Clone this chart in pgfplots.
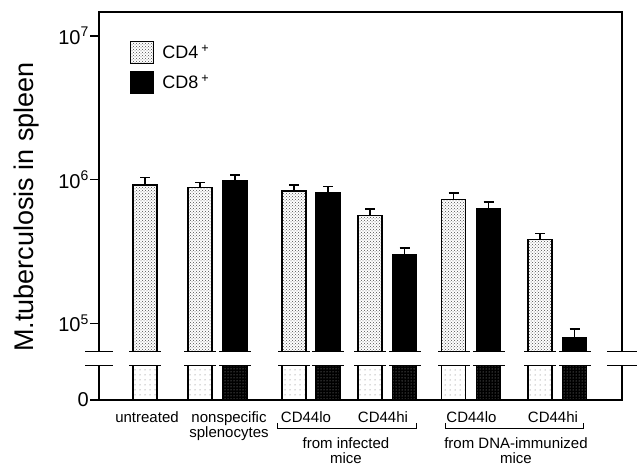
\documentclass[border=0pt]{standalone}
\usepackage{fontspec}
\setmainfont{Liberation Sans}
\usepackage{pgfplots}
\pgfplotsset{compat=1.18}
\usetikzlibrary{patterns,patterns.meta}
\pgfplotsset{
  mybar/.style={ybar, bar width=24, bar shift=0pt, line width=1.1pt,
    /pgfplots/legend image code/.code={\draw[##1, line width=1.1pt] (0pt,-11pt) rectangle (23pt,11pt);}},
  cdfour/.style={draw=black, fill=white, postaction={pattern=crosshatch dots, pattern color=black!70}},
  cdeight/.style={draw=black, fill=black},
  cdfourlow/.style={draw=black, fill=white, postaction={pattern={Dots[distance=5pt,radius=0.5pt]}, pattern color=black!60}},
  cdeightlow/.style={draw=black, fill=black, postaction={pattern={Dots[distance=3pt,radius=0.5pt]}, pattern color=white!65!black}},
  errs/.style={error bars/.cd, y dir=plus, y explicit,
    error mark options={rotate=90, mark size=5pt, line width=1.6pt, black},
    error bar style={line width=1.6pt, black}},
  brk/.style={forget plot, draw=none, mark=none, error bars/.cd, x dir=both, x explicit,
    error mark=none, error bar style={line width=1.3pt, draw=black}},
}
\begin{document}
\begin{tikzpicture}
\useasboundingbox (0pt,0pt) rectangle (640pt,465pt);
% upper (log) part
\begin{axis}[
  at={(99pt,113.3pt)}, anchor=south west,
  width=523pt, height=339.7pt, scale only axis,
  xmin=99, xmax=622,
  ymode=log, ymin=6.34e4, ymax=1.47e7, log origin=infty,
  axis line style={draw=none},
  xtick=\empty,
  ytick={1e5,1e6,1e7},
  yticklabels={10\textsuperscript{5},10\textsuperscript{6},10\textsuperscript{7}},
  yminorticks=false,
  tick pos=left, tick align=outside, major tick length=9pt,
  tick style={black, line width=1.1pt},
  yticklabel style={font=\fontsize{20}{20}\selectfont, inner sep=1pt},
  clip=false,
  legend style={at={(rel axis cs:0.0593,0.9146)}, anchor=north west, draw=none, fill=none,
    inner sep=0pt, row sep=7pt, font=\fontsize{18}{18}\selectfont,
    /tikz/every odd column/.append style={column sep=6pt}},
  legend cell align=left,
]
\addplot[mybar, cdfour, errs] coordinates {
  (145,9.18e5) +- (0,1.14e5)
  (200,8.85e5) +- (0,7.3e4)
  (294,8.34e5) +- (0,8.4e4)
  (370,5.61e5) +- (0,6.1e4)
  (453.5,7.30e5) +- (0,7.4e4)
  (540,3.84e5) +- (0,3.9e4)
};
\addlegendentry{CD4\,\textsuperscript{+}}
\addplot[mybar, cdeight, errs] coordinates {
  (235,9.79e5) +- (0,9.9e4)
  (328,8.16e5) +- (0,7.7e4)
  (404.5,3.02e5) +- (0,3.1e4)
  (488.5,6.32e5) +- (0,6.4e4)
  (574.5,7.94e4) +- (0,1.19e4)
};
\addlegendentry{CD8\,\textsuperscript{+}}
\addplot[brk] coordinates {
  (99,6.34e4) +- (14,0) (622,6.34e4) +- (15,0)
  (145,6.34e4) +- (16,0) (200,6.34e4) +- (16,0) (235,6.34e4) +- (16,0)
  (294,6.34e4) +- (16,0) (328,6.34e4) +- (16,0) (370,6.34e4) +- (16,0)
  (404.5,6.34e4) +- (16,0) (453.5,6.34e4) +- (16,0) (488.5,6.34e4) +- (16,0)
  (540,6.34e4) +- (16,0) (574.5,6.34e4) +- (16,0)
};
\draw[line width=1.2pt] (rel axis cs:0,0) -- (rel axis cs:0,1) -- (rel axis cs:1,1) -- (rel axis cs:1,0);
\end{axis}
% lower (zero) part
\begin{axis}[
  at={(99pt,65pt)}, anchor=south west,
  width=523pt, height=34.3pt, scale only axis,
  xmin=99, xmax=622, ymin=0, ymax=1,
  axis line style={draw=none},
  ytick={0}, yticklabels={0},
  tick pos=left, tick align=outside, major tick length=9pt,
  tick style={black, line width=1.1pt},
  major x tick style={draw=none},
  yticklabel style={font=\fontsize{20}{20}\selectfont, inner sep=1pt},
  xtick={147,229,306,383,471.5,553},
  xticklabels={untreated, nonspecific\\splenocytes, CD44lo, CD44hi, CD44lo, CD44hi},
  xticklabel style={align=center, font=\fontsize{15}{15}\selectfont, anchor=north, inner sep=0pt, yshift=-2pt},
  clip=false,
]
\addplot[mybar, cdfourlow] coordinates {(145,1) (200,1) (294,1) (370,1) (453.5,1) (540,1)};
\addplot[mybar, cdeightlow] coordinates {(235,1) (328,1) (404.5,1) (488.5,1) (574.5,1)};
\addplot[brk] coordinates {
  (99,1) +- (14,0) (622,1) +- (15,0)
  (145,1) +- (16,0) (200,1) +- (16,0) (235,1) +- (16,0)
  (294,1) +- (16,0) (328,1) +- (16,0) (370,1) +- (16,0)
  (404.5,1) +- (16,0) (453.5,1) +- (16,0) (488.5,1) +- (16,0)
  (540,1) +- (16,0) (574.5,1) +- (16,0)
};
\draw[line width=1.2pt] (rel axis cs:0,1) -- (rel axis cs:0,0) -- (rel axis cs:1,0) -- (rel axis cs:1,1);
\draw[line width=1pt] ([yshift=-23pt]axis cs:277,0) -- ([yshift=-29pt]axis cs:277,0) -- ([yshift=-29pt]axis cs:416,0) -- ([yshift=-23pt]axis cs:416,0);
\draw[line width=1pt] ([yshift=-23pt]axis cs:445,0) -- ([yshift=-29pt]axis cs:445,0) -- ([yshift=-29pt]axis cs:583,0) -- ([yshift=-23pt]axis cs:583,0);
\node[anchor=north, inner sep=0pt, align=center, font=\fontsize{15}{15}\selectfont] at ([yshift=-37pt]axis cs:346,0) {from infected\\mice};
\node[anchor=north, inner sep=0pt, align=center, font=\fontsize{15}{15}\selectfont] at ([yshift=-37pt]axis cs:516,0) {from DNA-immunized\\mice};
\end{axis}
\node[rotate=90, font=\fontsize{27}{27}\selectfont] at (27pt,258pt) {M.tuberculosis in spleen};
\end{tikzpicture}
\end{document}
